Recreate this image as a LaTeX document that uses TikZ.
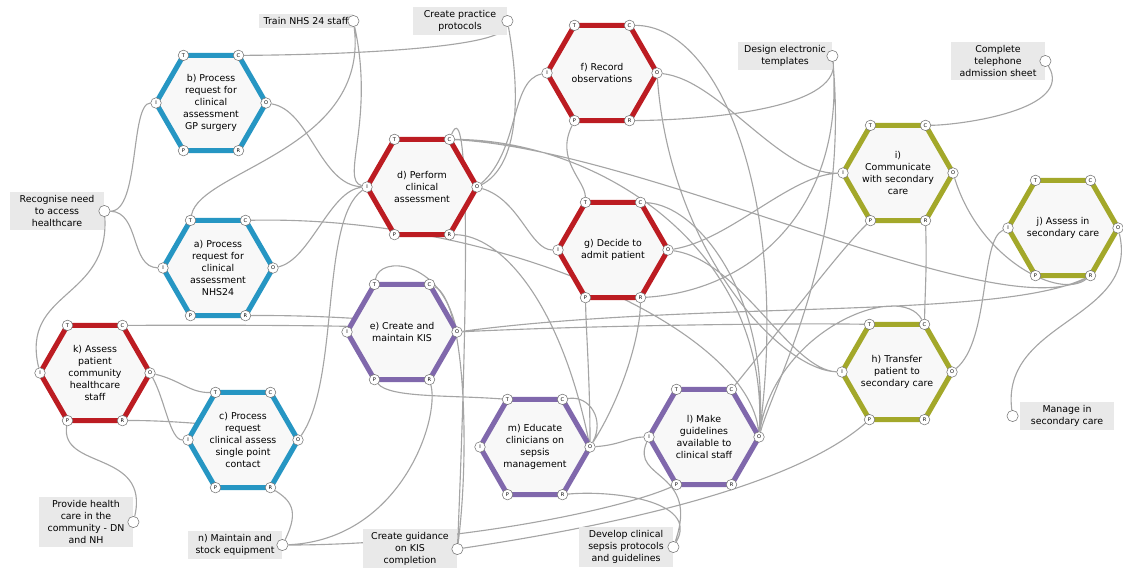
\documentclass[tikz,border=0pt]{standalone}
\usepackage{fontspec}
\setmainfont{DejaVu Sans}
\usetikzlibrary{positioning}
\pgfdeclarelayer{background}
\pgfsetlayers{background,main}
\definecolor{fblue}{RGB}{38,150,195}
\definecolor{fred}{RGB}{188,28,34}
\definecolor{fpurple}{RGB}{128,104,172}
\definecolor{folive}{RGB}{163,168,42}
\definecolor{hexfill}{RGB}{248,248,248}
\definecolor{boxgray}{RGB}{233,233,233}
\definecolor{aspgray}{RGB}{120,120,120}
\definecolor{linegray}{RGB}{165,165,165}

\begin{document}
\begin{tikzpicture}[x=0.025cm,y=-0.025cm,font=\fontsize{6.7}{8.6}\selectfont]

   \tikzstyle{hexline}=[line width=3.6pt,line join=round,fill=hexfill]
   \tikzstyle{fntext}=[align=center,inner sep=0pt]
   \tikzstyle{asp}=[circle,draw=aspgray,fill=white,inner sep=0pt,minimum size=7.5pt,font=\fontsize{3.6}{4}\selectfont]
   \tikzstyle{box}=[fill=boxgray,align=center,minimum width=67pt,inner sep=2.5pt]
   \tikzstyle{port}=[circle,draw=aspgray,fill=white,inner sep=0pt,minimum size=8pt]
   \tikzstyle{flow}=[draw=linegray,line width=0.8pt]

   \useasboundingbox (0,0) rectangle (1123,567);

   % centres of the functions
   \coordinate (a) at (218,268);
   \coordinate (b) at (211,103);
   \coordinate (c) at (243,440);
   \coordinate (d) at (422,187);
   \coordinate (e) at (402,332);
   \coordinate (f) at (602,73);
   \coordinate (g) at (613,250);
   \coordinate (h) at (897,372);
   \coordinate (i) at (898,173);
   \coordinate (j) at (1063,228);
   \coordinate (k) at (95,373);
   \coordinate (l) at (704,437);
   \coordinate (m) at (535,447);

   \foreach \fn/\col in {a/fblue,b/fblue,c/fblue,d/fred,f/fred,g/fred,k/fred,
                         e/fpurple,l/fpurple,m/fpurple,h/folive,i/folive,j/folive}
     \draw[hexline,draw=\col] (\fn) ++(0:55) -- ++(120:55) -- ++(180:55)
        -- ++(240:55) -- ++(300:55) -- ++(0:55) -- cycle;

   \node[fntext] (ta) at (a) {a) Process\\request for\\clinical\\assessment\\NHS24};
   \node[fntext] (tb) at (b) {b) Process\\request for\\clinical\\assessment\\GP surgery};
   \node[fntext] (tc) at (c) {c) Process\\request\\clinical assess\\single point\\contact};
   \node[fntext] (td) at (d) {d) Perform\\clinical\\assessment};
   \node[fntext] (te) at (e) {e) Create and\\maintain KIS};
   \node[fntext] (tf) at (f) {f) Record\\observations};
   \node[fntext] (tg) at (g) {g) Decide to\\admit patient};
   \node[fntext] (th) at (h) {h) Transfer\\patient to\\secondary care};
   \node[fntext] (ti) at (i) {i)\\Communicate\\with secondary\\care};
   \node[fntext] (tj) at (j) {j) Assess in\\secondary care};
   \node[fntext] (tk) at (k) {k) Assess\\patient\\community\\healthcare\\staff};
   \node[fntext] (tl) at (l) {l) Make\\guidelines\\available to\\clinical staff};
   \node[fntext] (tm) at (m) {m) Educate\\clinicians on\\sepsis\\management};

   % the six aspects of every function
   \foreach \fn in {a,b,c,d,e,f,g,h,i,j,k,l,m}
     \foreach \sd/\an in {T/240,C/300,O/0,R/60,P/120,I/180}
       \path (\fn) ++(\an:55) node[asp] (\fn\sd) {\sd};

   % background functions
   \node[box] (trainbox) at (306,21) {Train NHS 24 staff};
   \node[port] (train) at (trainbox.east) {};
   \node[box] (pracbox) at (460,21) {Create practice\\protocols};
   \node[port] (prac) at (pracbox.east) {};
   \node[box] (recbox) at (57,211) {Recognise need\\to access\\healthcare};
   \node[port] (rec) at (recbox.east) {};
   \node[box] (designbox) at (785,56) {Design electronic\\templates};
   \node[port] (design) at (designbox.east) {};
   \node[box] (telbox) at (998,61) {Complete\\telephone\\admission sheet};
   \node[port] (tel) at (telbox.east) {};
   \node[box] (providebox) at (86,522) {Provide health\\care in the\\community - DN\\and NH};
   \node[port] (provide) at (providebox.east) {};
   \node[box] (maintbox) at (235,545) {n) Maintain and\\stock equipment};
   \node[port] (maint) at (maintbox.east) {};
   \node[box] (guidbox) at (410,549) {Create guidance\\on KIS\\completion};
   \node[port] (guid) at (guidbox.east) {};
   \node[box] (develbox) at (626,547) {Develop clinical\\sepsis protocols\\and guidelines};
   \node[port] (devel) at (develbox.east) {};
   \node[box] (managebox) at (1067,416) {Manage in\\secondary care};
   \node[port] (manage) at ([xshift=-5pt]managebox.west) {};

   \begin{pgfonlayer}{background}
   \path[flow] (rec) .. controls (140,212) and (130,103) .. (bI)
               (rec) .. controls (140,212) and (130,267) .. (aI)
               (rec) .. controls (110,300) and (20,290) .. (kI)
               (train) .. controls (370,150) and (200,170) .. (aT)
               (train) .. controls (375,120) and (340,180) .. (dI)
               (prac) .. controls (500,50) and (320,55) .. (bC)
               (prac) .. controls (525,120) and (510,170) .. (dO)
               (design) .. controls (840,110) and (700,120) .. (fR)
               (design) .. controls (845,200) and (760,290) .. (gR)
               (design) .. controls (850,250) and (775,380) .. (lO)
               (tel) .. controls (1075,110) and (960,125) .. (iC)
               (jO) .. controls (1140,320) and (1000,320) .. (manage)
               (provide) .. controls (150,450) and (60,470) .. (kP)
               (maint) .. controls (300,510) and (290,500) .. (cR)
               (maint) .. controls (400,540) and (440,420) .. (eR)
               (maint) .. controls (450,545) and (620,510) .. (lP)
               (guid) .. controls (470,450) and (465,300) .. (eC)
               (guid) .. controls (468,300) and (470,90) .. (dC)
               (guid) .. controls (650,520) and (800,480) .. (hP)
               (devel) .. controls (700,500) and (610,490) .. (mR)
               (devel) .. controls (700,470) and (630,480) .. (lI);

   \path[flow] (kO) .. controls (180,380) and (190,393) .. (cT)
               (kO) .. controls (165,400) and (170,440) .. (cI)
               (cO) .. controls (250,425) and (160,420) .. (kR)
               (cO) .. controls (340,380) and (320,220) .. (dI)
               (aO) .. controls (310,260) and (330,190) .. (dI)
               (bO) .. controls (310,110) and (320,185) .. (dI)
               (dO) .. controls (520,150) and (510,80) .. (fI)
               (dO) .. controls (520,200) and (530,250) .. (gI)
               (fP) .. controls (555,160) and (585,180) .. (gT)
               (fO) .. controls (720,80) and (780,175) .. (iI)
               (fO) .. controls (670,250) and (780,370) .. (hI)
               (gO) .. controls (730,240) and (790,175) .. (iI)
               (gO) .. controls (740,260) and (790,370) .. (hI)
               (hO) .. controls (990,340) and (980,240) .. (jI)
               (iO) .. controls (980,260) and (1060,300) .. (jR)
               (iR) .. controls (927,270) and (925,290) .. (hC)
               (lC) .. controls (780,330) and (840,250) .. (iP);

   \path[flow] (mO) .. controls (590,380) and (586,330) .. (gP)
               (mO) .. controls (620,400) and (640,340) .. (gR)
               (mO) .. controls (620,445) and (630,437) .. (lI)
               (mC) .. controls (590,395) and (605,420) .. (mO)
               (mO) .. controls (560,300) and (500,235) .. (dR)
               (eO) .. controls (400,325) and (250,325) .. (kC)
               (eO) .. controls (400,318) and (300,315) .. (aR)
               (eO) .. controls (600,325) and (800,323) .. (hT)
               (eO) .. controls (700,300) and (1000,320) .. (jR)
               (eO) .. controls (440,260) and (380,255) .. (eT)
               (eP) .. controls (390,398) and (450,395) .. (mT)
               (lO) .. controls (790,200) and (720,25) .. (fC)
               (lO) .. controls (770,300) and (700,205) .. (gC)
               (lO) .. controls (770,250) and (600,140) .. (dC)
               (lO) .. controls (750,330) and (500,215) .. (aC)
               (lO) .. controls (775,330) and (900,280) .. (hC)
               (dC) .. controls (650,150) and (1000,330) .. (jR);
   \end{pgfonlayer}

\end{tikzpicture}
\end{document}
